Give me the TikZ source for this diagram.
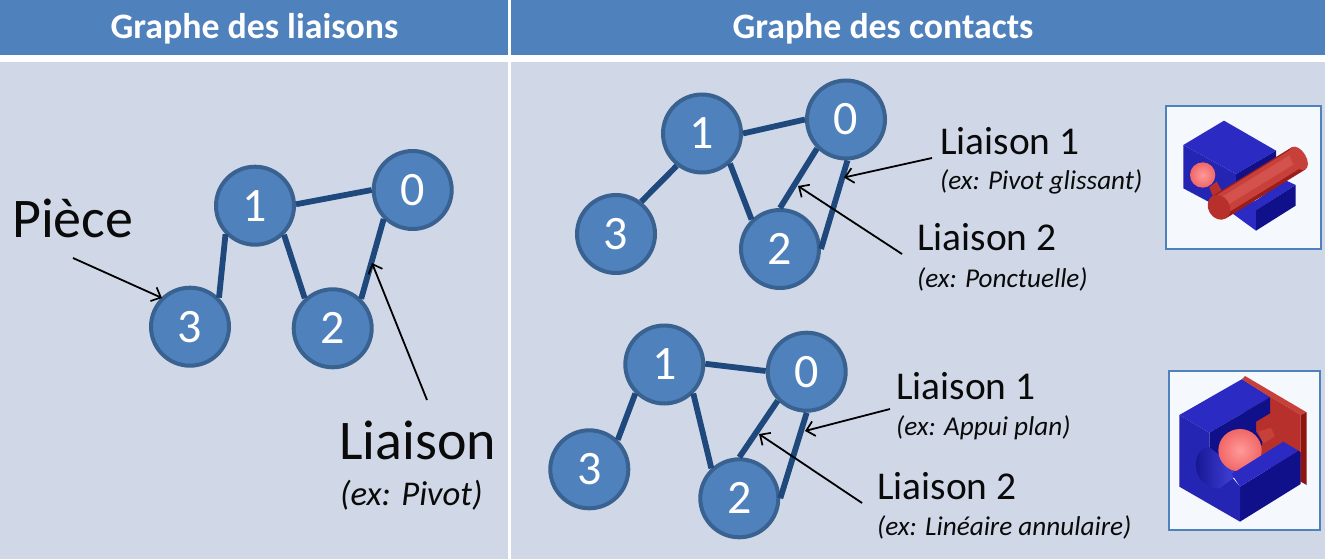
\documentclass[tikz,border=0pt]{standalone}
\usepackage{fontspec}
\setmainfont{Carlito}
\usetikzlibrary{arrows.meta}
\definecolor{panel}{HTML}{D0D8E8}
\definecolor{head}{HTML}{4F81BD}
\definecolor{ring}{HTML}{3A6291}
\definecolor{link}{HTML}{1F497D}
\definecolor{txt}{HTML}{0A0A0A}
\definecolor{photo}{HTML}{F5F8FD}
\definecolor{bA}{HTML}{2B2BC4}
\definecolor{bB}{HTML}{2525B4}
\definecolor{bC}{HTML}{10108A}
\definecolor{bD}{HTML}{4444DD}
\definecolor{rA}{HTML}{C8403A}
\definecolor{rB}{HTML}{B8302C}
\definecolor{rC}{HTML}{8E1410}
\definecolor{rD}{HTML}{D85A55}
\definecolor{ballA}{HTML}{FF9A9A}
\definecolor{ballB}{HTML}{F06060}
\definecolor{ballC}{HTML}{A82020}
\pgfdeclareradialshading{pinkball}{\pgfpoint{0bp}{0bp}}{color(0bp)=(ballA);color(28bp)=(ballB);color(50bp)=(ballC)}
\tikzset{
  part/.style={circle,draw=ring,line width=4pt,fill=head,minimum size=78pt,inner sep=0pt,text=white,font=\fontsize{48}{48}\selectfont},
  linkline/.style={draw=link,line width=5.8pt},
  pointer/.style={draw=black,line width=1.8pt,-{Straight Barb[length=8pt,width=15pt,line width=1.7pt]}},
  headtext/.style={text=white,font=\fontsize{35.8}{36}\selectfont\bfseries},
  bigtext/.style={text=txt,font=\fontsize{56}{56}\selectfont,inner sep=0pt},
  midtext/.style={text=txt,font=\fontsize{39.4}{40}\selectfont,inner sep=0pt,anchor=west},
  extext/.style={text=txt,font=\fontsize{27.2}{28}\selectfont\itshape,inner sep=0pt,anchor=west},
  photobox/.style={draw=head,line width=1.8pt,fill=photo}
}
\begin{document}
\begin{tikzpicture}[x=1pt,y=-1pt]
\useasboundingbox (0,0) rectangle (1325,559);
\fill[panel] (0,0) rectangle (1325,559);
\fill[head] (0,0) rectangle (1325,55);
\fill[white] (0,55) rectangle (1325,62);
\fill[white] (508,0) rectangle (510.5,559);
\node[headtext] (h1) at (254.5,29) {Graphe des liaisons};
\node[headtext] (h2) at (883,29) {Graphe des contacts};
% left graph
\node[part] (a1) at (255,205.7) {1};
\node[part] (a0) at (412.7,190) {0};
\node[part] (a3) at (190,326.7) {3};
\node[part] (a2) at (332.7,328.3) {2};
% top right graph
\node[part] (b1) at (702,133.5) {1};
\node[part] (b0) at (846,119.5) {0};
\node[part] (b3) at (616,234) {3};
\node[part] (b2) at (780,249) {2};
% bottom right graph
\node[part] (c1) at (664.3,364.5) {1};
\node[part] (c0) at (806.7,371.7) {0};
\node[part] (c3) at (589.3,469.3) {3};
\node[part] (c2) at (739.3,498.3) {2};
\draw[linkline] (a1.2) -- (a0.180);
\draw[linkline] (a1.-136) -- (a3.45);
\draw[linkline] (a1.-45) -- (a2.133);
\draw[linkline] (a0.-135) -- (a2.46);
\draw[linkline] (b1.0) -- (b0.180);
\draw[linkline] (b1.-128) -- (b3.52);
\draw[linkline] (b1.-47) -- (b2.134);
\draw[linkline] (b0.-135) -- (b2.90);
\draw[linkline] (b0.-88) -- (b2.0);
\draw[linkline] (c1.1) -- (c0.179);
\draw[linkline] (c1.-135) -- (c3.46);
\draw[linkline] (c1.-45) -- (c2.133);
\draw[linkline] (c0.-135) -- (c2.90);
\draw[linkline] (c0.-90) -- (c2.0);
% labels
\node[bigtext,anchor=west] (piece) at (12,218) {Pièce};
\node[bigtext,anchor=west] (liaison) at (339,440) {Liaison};
\node[text=txt,font=\fontsize{34.7}{35}\selectfont\itshape,inner sep=0pt,anchor=west] (expivot) at (340,495) {(ex: Pivot)};
\node[midtext] (t1) at (940,141) {Liaison 1};
\node[extext] (t1e) at (940,182) {(ex: Pivot glissant)};
\node[midtext] (t2) at (917,237) {Liaison 2};
\node[extext] (t2e) at (917,279) {(ex: Ponctuelle)};
\node[midtext] (u1) at (896,386) {Liaison 1};
\node[extext] (u1e) at (896,428) {(ex: Appui plan)};
\node[midtext] (u2) at (877,486) {Liaison 2};
\node[extext] (u2e) at (877,527) {(ex: Linéaire annulaire)};
% pointers
\coordinate (pA) at (73,258); \coordinate (pAe) at (162,298);
\coordinate (pB) at (427,400); \coordinate (pBe) at (372,263);
\coordinate (pC) at (932,158); \coordinate (pCe) at (844,177.5);
\coordinate (pD) at (902,254); \coordinate (pDe) at (798,186);
\coordinate (pE) at (890,409); \coordinate (pEe) at (805,431);
\coordinate (pF) at (862,503); \coordinate (pFe) at (759,434);
\draw[pointer] (pA) -- (pAe);
\draw[pointer] (pB) -- (pBe);
\draw[pointer] (pC) -- (pCe);
\draw[pointer] (pD) -- (pDe);
\draw[pointer] (pE) -- (pEe);
\draw[pointer] (pF) -- (pFe);
% picture 1
\begin{scope}[shift={(1150,90)},scale=1/3]
\draw[photobox] (47,47) rectangle (513,477);
% lower block
\fill[bA] (240,365) -- (320,330) -- (405,270) -- (437,285) -- (318,360) -- (318,422) -- cycle;
\fill[bC] (318,360) -- (437,285) -- (437,347) -- (318,422) -- cycle;
% upper block
\fill[bB] (100,165) -- (258,252) -- (258,300) -- (230,345) -- (175,335) -- (100,295) -- cycle;
\fill[bA] (100,165) -- (222,92) -- (378,182) -- (258,252) -- cycle;
\fill[bC] (258,252) -- (378,182) -- (378,215) -- (258,285) -- cycle;
% shaft
\fill[rB] (178,292) -- (200,275) -- (225,320) -- (195,335) -- cycle;
\draw[rC!70!rB,line width=26pt] (207,352) -- (446,205);
\draw[rA,line width=21pt] (205,349) -- (444,202);
\draw[rD!70!rA,line width=10pt] (203,346) -- (442,199);
\fill[rA,rotate around={31.5:(446,205)}] (446,205) ellipse[x radius=22,y radius=39];
\fill[rB,rotate around={31.5:(207,352)}] (207,352) ellipse[x radius=32,y radius=39];
\shade[shading=pinkball] (158,255) circle[radius=38];
\end{scope}
% picture 2
\begin{scope}[shift={(1150,360)},scale=1/3]
\draw[photobox] (56,33) rectangle (511,510);
\fill[rA] (275,58) -- (285,48) -- (470,157) -- (452,165) -- cycle;
\fill[rB] (275,58) -- (452,165) -- (452,365) -- (300,300) -- cycle;
\fill[rC] (452,165) -- (470,157) -- (470,375) -- (452,365) -- cycle;
\fill[bA] (88,165) -- (275,58) -- (360,112) -- (178,218) -- cycle;
\fill[bC] (178,218) -- (360,112) -- (360,160) -- (318,185) -- (318,215) -- (340,250) -- (250,345) -- (178,280) -- cycle;
\fill[rA] (325,215) -- (362,203) -- (375,228) -- (340,252) -- cycle;
\fill[rB] (335,250) -- (375,240) -- (400,245) -- (355,275) -- cycle;
\fill[bC] (270,380) -- (445,272) -- (452,277) -- (452,372) -- (270,485) -- cycle;
\fill[bB] (88,165) -- (178,218) -- (178,262) -- (215,300) -- (240,345) -- (270,380) -- (270,485) -- (88,380) -- cycle;
\shade[left color=bC,right color=bD] (170,263) .. controls (125,268) and (118,380) .. (208,386) -- (262,345) -- (215,290) -- (178,262) -- cycle;
\shade[shading=pinkball] (270,271) circle[x radius=65,y radius=64];
\fill[bA] (245,342) -- (400,245) -- (445,272) -- (270,380) -- cycle;
\end{scope}
\end{tikzpicture}
\end{document}
